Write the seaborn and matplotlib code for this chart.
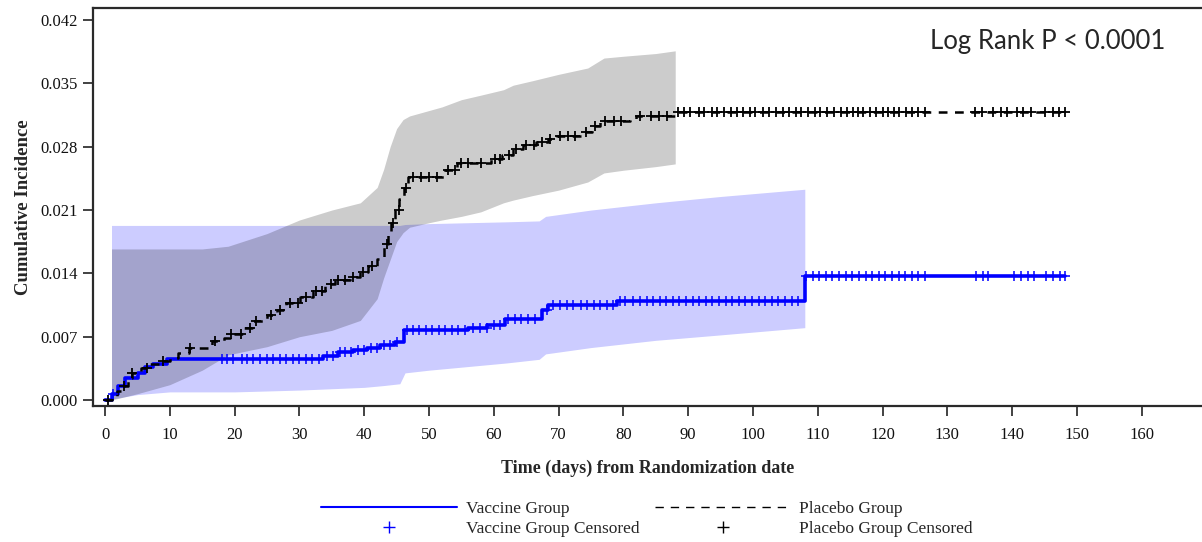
import numpy as np
import matplotlib
matplotlib.use("Agg")
import matplotlib.pyplot as plt
import seaborn as sns
from matplotlib.lines import Line2D

# step curves (day, cumulative incidence)
vac_days = [0, 1.0, 2.0, 3.1, 5.1, 6.2, 7.4, 9.6, 33.7, 36.0, 38.3, 40.4, 42.4, 44.8,
            46.2, 56.0, 59.0, 61.7, 67.4, 68.3, 79.0, 108.0, 148.2]
vac_cum = [0, 0.0007, 0.0016, 0.0024, 0.0030, 0.0036, 0.0040, 0.0045, 0.0049, 0.0053,
           0.0055, 0.0058, 0.0061, 0.0064, 0.0077, 0.0080, 0.0083, 0.0090, 0.0099,
           0.0105, 0.0109, 0.0137, 0.0137]

plc_days = [0, 1.0, 1.8, 2.8, 3.5, 4.2, 5.5, 6.8, 8.5, 10.0, 11.3, 13.0, 16.5, 18.3,
            19.3, 21.3, 22.7, 25.0, 26.5, 28.0, 30.1, 32.1, 34.0, 35.5, 37.8, 39.4,
            40.6, 42.0, 43.0, 43.6, 44.2, 44.8, 45.4, 46.2, 46.8, 52.5, 54.3, 59.5,
            61.3, 63.0, 64.5, 66.5, 68.4, 69.7, 73.8, 75.1, 76.4, 81.0, 82.0, 88.2, 148.2]
plc_cum = [0, 0.0005, 0.0010, 0.0016, 0.0024, 0.0030, 0.0035, 0.0040, 0.0043, 0.0046,
           0.0052, 0.0058, 0.0065, 0.0069, 0.0073, 0.0080, 0.0087, 0.0094, 0.0100,
           0.0107, 0.0114, 0.0121, 0.0128, 0.0133, 0.0136, 0.0142, 0.0148, 0.0156,
           0.0172, 0.0184, 0.0196, 0.0210, 0.0222, 0.0234, 0.0246, 0.0254, 0.0262,
           0.0266, 0.0271, 0.0278, 0.0282, 0.0285, 0.0288, 0.0292, 0.0296, 0.0303,
           0.0308, 0.0311, 0.0314, 0.0318, 0.0318]

# censoring times
vac_cens = [1.2, 18.0, 18.8, 19.8, 21.1, 21.9, 22.8, 23.9, 25.0, 26.0, 27.0, 28.0, 29.0,
            30.0, 31.0, 32.0, 33.0, 34.2, 35.2, 36.2, 37.1, 38.0, 39.0, 40.0, 41.0, 42.0,
            43.0, 44.0, 45.0, 46.6, 47.5, 48.5, 49.5, 50.5, 51.5, 52.5, 53.5, 54.5, 55.5,
            56.8, 57.8, 58.9, 60.0, 61.0, 62.2, 63.2, 64.2, 65.3, 66.4, 68.2, 69.2, 70.2,
            71.3, 72.3, 73.4, 74.4, 75.4, 76.4, 77.4, 78.4, 79.5, 80.3, 81.5, 82.5, 83.6,
            84.6, 85.6, 86.6, 87.6, 88.6, 89.7, 90.7, 91.7, 92.7, 93.7, 94.8, 95.8, 96.8,
            97.8, 98.8, 99.9, 100.9, 101.9, 102.9, 103.9, 105.0, 106.0, 107.0, 108.2,
            109.2, 110.2, 111.2, 112.2, 113.3, 114.3, 115.3, 116.3, 117.4, 118.4, 119.4,
            120.4, 121.4, 122.5, 123.5, 124.5, 125.5, 126.5, 134.4, 135.5, 136.3, 140.3,
            141.4, 142.4, 143.4, 145.2, 146.3, 147.4, 148.2]
plc_cens = [0.5, 3.0, 4.2, 6.5, 9.0, 13.1, 17.0, 19.5, 21.0, 22.3, 23.3, 25.6, 27.0, 28.5,
            29.8, 31.0, 32.5, 33.5, 34.8, 36.0, 37.0, 38.2, 39.8, 41.2, 43.5, 44.5, 45.3,
            46.5, 47.5, 48.7, 50.0, 51.2, 53.0, 54.0, 55.0, 56.0, 58.0, 60.2, 61.0, 62.3,
            63.5, 65.0, 66.2, 67.4, 68.6, 70.2, 71.5, 72.5, 74.2, 75.6, 77.2, 78.5, 79.6,
            82.6, 84.2, 85.5, 86.8, 88.4, 89.3, 90.3, 91.6, 92.5, 93.6, 94.5, 95.6, 96.6,
            97.6, 98.4, 99.5, 100.3, 101.5, 102.4, 103.5, 104.6, 105.5, 106.6, 107.4,
            108.5, 109.5, 110.4, 111.5, 112.5, 113.6, 114.5, 115.5, 116.2, 117.0, 118.0,
            119.0, 120.0, 120.8, 121.8, 122.6, 123.6, 124.6, 125.4, 126.6, 134.3, 135.4,
            137.1, 138.3, 139.2, 140.8, 141.7, 142.9, 145.1, 146.3, 147.3, 148.1]

# confidence bands
vac_band_days = [1, 5, 10, 20, 30, 40, 43, 45.5, 46.3, 50, 56, 62, 67, 68, 75, 85, 95, 108]
vac_lo = [0.0001, 0.0006, 0.0009, 0.0009, 0.0011, 0.0014, 0.0016, 0.0018, 0.0030, 0.0033,
          0.0037, 0.0041, 0.0045, 0.0051, 0.0058, 0.0066, 0.0072, 0.0080]
vac_hi = [0.0193, 0.0193, 0.0193, 0.0193, 0.0193, 0.0193, 0.0193, 0.0193, 0.0194, 0.0195,
          0.0196, 0.0197, 0.0198, 0.0203, 0.0210, 0.0218, 0.0225, 0.0233]

plc_band_days = [1, 5, 10, 15, 19, 25, 30, 35, 39.4, 42, 43, 44, 45, 46, 47, 50, 52, 55,
                 58, 61.5, 63, 66, 70, 74.5, 77, 80, 85, 88]
plc_lo = [0.0, 0.0007, 0.0017, 0.0033, 0.0050, 0.0059, 0.0070, 0.0077, 0.0088, 0.0112,
          0.0135, 0.0155, 0.0175, 0.0185, 0.0191, 0.0196, 0.0199, 0.0203, 0.0208, 0.0218,
          0.0221, 0.0226, 0.0232, 0.0241, 0.0251, 0.0254, 0.0258, 0.0261]
plc_hi = [0.0167, 0.0167, 0.0167, 0.0167, 0.0170, 0.0184, 0.0199, 0.0210, 0.0218, 0.0235,
          0.0255, 0.0280, 0.0300, 0.0310, 0.0314, 0.0320, 0.0324, 0.0332, 0.0337, 0.0343,
          0.0348, 0.0353, 0.0360, 0.0367, 0.0378, 0.0380, 0.0383, 0.0386]

x_ticks = list(range(0, 170, 10))
y_ticks = [0.0, 0.007, 0.014, 0.021, 0.028, 0.035, 0.042]


def step_value(days, cum, t):
    # value of a right-continuous step curve at time t
    i = np.searchsorted(days, t, side="right") - 1
    return np.asarray(cum)[i]


sns.set_style("ticks")
plt.rcParams["font.family"] = ["Liberation Serif", "DejaVu Serif"]

fig = plt.figure(figsize=(12.02, 5.42), dpi=100)
ax = fig.add_axes([0.0774, 0.2509, 0.9226, 0.7343])

ax.fill_between(vac_band_days, vac_lo, vac_hi, color="blue", alpha=0.2, lw=0, zorder=1)
ax.fill_between(plc_band_days, plc_lo, plc_hi, color="black", alpha=0.2, lw=0, zorder=2)

sns.lineplot(x=vac_days, y=vac_cum, drawstyle="steps-post", color="blue", lw=2.6,
             estimator=None, ax=ax, zorder=3)
sns.lineplot(x=plc_days, y=plc_cum, drawstyle="steps-post", color="black", lw=1.8,
             linestyle=(0, (3.5, 3)), estimator=None, ax=ax, zorder=4)

sns.scatterplot(x=vac_cens, y=step_value(vac_days, vac_cum, vac_cens), marker="+",
                s=55, color="blue", linewidth=1.1, ax=ax, zorder=5)
sns.scatterplot(x=plc_cens, y=step_value(plc_days, plc_cum, plc_cens), marker="+",
                s=55, color="black", linewidth=1.3, ax=ax, zorder=6)

ax.set_xlim(-1.85, 169.3)
ax.set_ylim(-0.00066, 0.04333)
ax.set_xticks(x_ticks)
ax.set_yticks(y_ticks)
ax.set_yticklabels([f"{v:.3f}" for v in y_ticks])
ax.tick_params(axis="both", direction="out", length=7, width=1.2, color="#222222",
               labelsize=12, labelcolor="#111111")
ax.tick_params(axis="x", pad=8)
ax.tick_params(axis="y", pad=4)

for side in ["left", "bottom", "top"]:
    ax.spines[side].set_linewidth(1.6)
    ax.spines[side].set_color("#2a2a2a")
ax.spines["right"].set_visible(False)

ax.set_xlabel("Time (days) from Randomization date", fontsize=13, fontweight="bold",
              labelpad=12)
ax.set_ylabel("Cumulative Incidence", fontsize=13.5, fontweight="bold", labelpad=6)

fig.text(930 / 1202, 1 - 41 / 542, "Log Rank P < 0.0001", fontsize=18.5,
         family=["Lato", "DejaVu Sans"], ha="left", va="center")

handles = [
    Line2D([], [], color="blue", lw=1.5),
    Line2D([], [], color="blue", marker="+", ls="none", ms=9, mew=1.0),
    Line2D([], [], color="black", lw=1.0, ls=(0, (6, 5))),
    Line2D([], [], color="black", marker="+", ls="none", ms=9, mew=1.0),
]
labels = ["Vaccine Group", "Vaccine Group Censored", "Placebo Group",
          "Placebo Group Censored"]
fig.legend(handles, labels, loc="upper center", bbox_to_anchor=(647 / 1202, 1 - 501 / 542),
           ncol=2, frameon=False, fontsize=12.5, handlelength=7.8, handletextpad=0.5,
           columnspacing=0.9, labelspacing=0.2, borderpad=0, borderaxespad=0)

fig.savefig("out.png", dpi=100)
